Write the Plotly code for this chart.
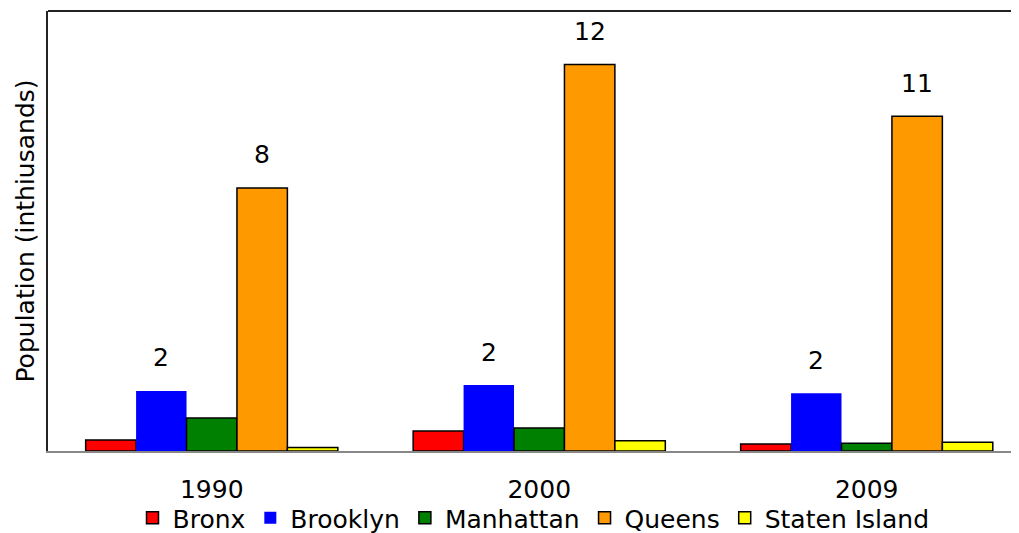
import plotly.graph_objects as go

# data (population, in thousands)
years = ["1990", "2000", "2009"]
bronx = [0.35, 0.64, 0.22]
brooklyn = [1.91, 2.10, 1.84]
manhattan = [1.05, 0.73, 0.25]
queens = [8.37, 12.3, 10.65]
staten_island = [0.11, 0.33, 0.28]

brooklyn_labels = ["2", "2", "2"]
queens_labels = ["8", "12", "11"]

FONT = "DejaVu Sans"
SIZE = 25
BARGAP = 0.23
N_SERIES = 5

fig = go.Figure()
fig.add_trace(go.Bar(name="Bronx", x=years, y=bronx,
                     marker=dict(color="#FF0000", line=dict(color="black", width=1.5))))
fig.add_trace(go.Bar(name="Brooklyn", x=years, y=brooklyn,
                     marker=dict(color="#0000FF", line=dict(color="#0000FF", width=0))))
fig.add_trace(go.Bar(name="Manhattan", x=years, y=manhattan,
                     marker=dict(color="#008000", line=dict(color="black", width=1.5))))
fig.add_trace(go.Bar(name="Queens", x=years, y=queens,
                     marker=dict(color="#FF9900", line=dict(color="black", width=1.5))))
fig.add_trace(go.Bar(name="Staten Island", x=years, y=staten_island,
                     marker=dict(color="#FFFF00", line=dict(color="black", width=1.5))))

fig.update_traces(hoverinfo="x+y+name")

# value labels above the Brooklyn (2nd) and Queens (4th) bars of each group
bar_w = (1 - BARGAP) / N_SERIES
annotations = []
for series_idx, vals, labels in [(1, brooklyn, brooklyn_labels), (3, queens, queens_labels)]:
    off = (series_idx - (N_SERIES - 1) / 2) * bar_w
    for i, (v, lab) in enumerate(zip(vals, labels)):
        annotations.append(dict(x=i + off, y=v, xref="x", yref="y", text=lab,
                                showarrow=False, yanchor="middle", yshift=33,
                                font=dict(family=FONT, size=SIZE, color="black")))

# page body adds an 8px offset, so the figure is sized to fit the window
fig.update_layout(
    width=1011, height=525,
    margin=dict(l=40, r=0, t=3, b=82, autoexpand=False),
    paper_bgcolor="white", plot_bgcolor="white",
    font=dict(family=FONT, size=SIZE, color="black"),
    barmode="group", bargap=BARGAP, bargroupgap=0,
    showlegend=True,
    legend=dict(orientation="h", x=0.5, xanchor="center", y=-0.1, yanchor="top",
                bgcolor="rgba(0,0,0,0)", font=dict(size=SIZE), itemwidth=30,
                traceorder="normal"),
    xaxis=dict(range=[-0.5, 2.465], showgrid=False, showline=True, automargin=False,
               linecolor="#888888", linewidth=2, ticks="", ticklabelstandoff=15,
               tickfont=dict(size=SIZE)),
    yaxis=dict(range=[0, 14.0], showgrid=False, zeroline=False, showline=True,
               automargin=False,
               linecolor="#222222", linewidth=2, showticklabels=False, ticks="",
               title=dict(text="Population (inthiusands)", font=dict(size=SIZE), standoff=4)),
    annotations=annotations,
    shapes=[dict(type="line", xref="paper", yref="paper", x0=0, x1=1, y0=1, y1=1,
                 line=dict(color="#222222", width=2))],
)

fig.write_html("out.html")
